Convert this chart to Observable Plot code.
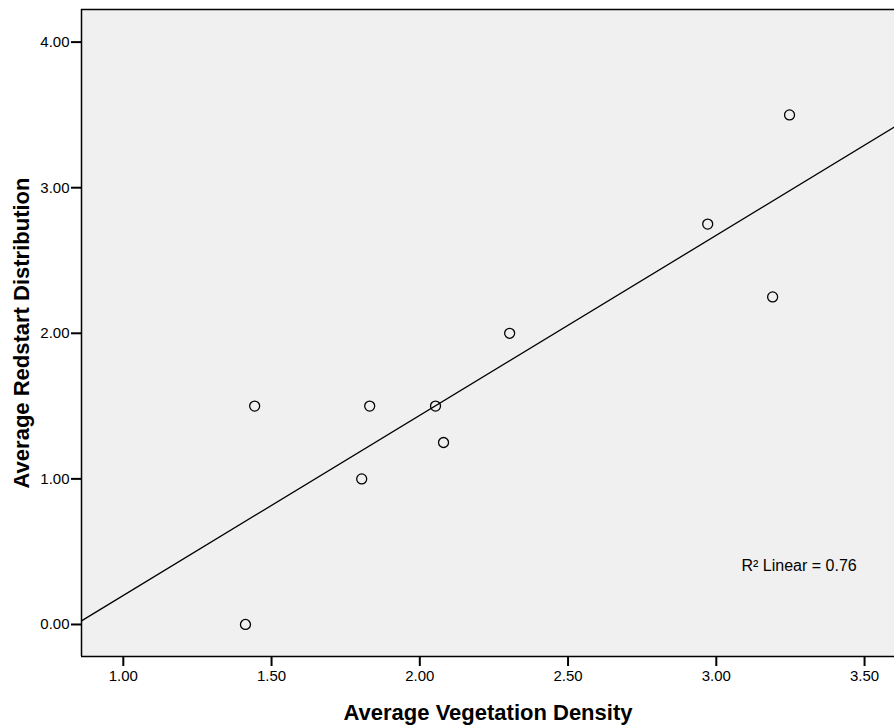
<!DOCTYPE html>
<html>
<head>
<meta charset="utf-8">
<script src="https://cdn.jsdelivr.net/npm/d3@7"></script>
<script src="https://cdn.jsdelivr.net/npm/@observablehq/plot@0.6"></script>
<style>
  body { margin: 0; background: #fff; }
  #chart svg { display: block; }
</style>
</head>
<body>
<div id="chart"></div>
<script>
const vegetation = [1.443, 1.412, 1.804, 1.831, 2.053, 2.080, 2.303, 2.971, 3.190, 3.247];
const redstart   = [1.50, 0.00, 1.00, 1.50, 1.50, 1.25, 2.00, 2.75, 2.25, 3.50];
const xTicks = [1.0, 1.5, 2.0, 2.5, 3.0, 3.5];
const yTicks = [0, 1, 2, 3, 4];
const xDomain = [0.859, 3.601];
const yDomain = [-0.22, 4.224];
const xTitle = "Average Vegetation Density";
const yTitle = "Average Redstart Distribution";
const r2Label = "R² Linear = 0.76";

const data = vegetation.map((v, i) => ({x: v, y: redstart[i]}));

// least-squares fit
const mx = d3.mean(vegetation), my = d3.mean(redstart);
const slope = d3.sum(data, d => (d.x - mx) * (d.y - my)) / d3.sum(data, d => (d.x - mx) ** 2);
const intercept = my - slope * mx;
const fitLine = xDomain.map(x => ({x, y: intercept + slope * x}));

const font = "'Liberation Sans', Arial, sans-serif";

const chart = Plot.plot({
  width: 894,
  height: 727,
  marginLeft: 81,
  marginTop: 9,
  marginRight: 0,
  marginBottom: 71,
  style: {fontFamily: font, fontSize: "15px", color: "#000", background: "#fff"},
  x: {domain: xDomain},
  y: {domain: yDomain},
  marks: [
    Plot.frame({fill: "#f0f0f0", stroke: null}),
    Plot.line(fitLine, {x: "x", y: "y", stroke: "#000", strokeWidth: 1.3, clip: true}),
    Plot.dot(data, {x: "x", y: "y", r: 5, stroke: "#000", strokeWidth: 1.3, fill: "none"}),
    Plot.ruleX([xDomain[0]], {stroke: "#000", strokeWidth: 1.5}),
    Plot.ruleY([yDomain[0], yDomain[1]], {stroke: "#000", strokeWidth: 1.5}),
    Plot.axisX({ticks: xTicks, tickFormat: d3.format(".2f"), tickSize: 10, tickPadding: 4, strokeWidth: 2, label: null, fontSize: 15}),
    Plot.axisY({ticks: yTicks, tickFormat: d3.format(".2f"), tickSize: 10, tickPadding: 2, strokeWidth: 2, label: null, fontSize: 15}),
    Plot.text([r2Label], {x: 3.085, y: 0.40, text: d => d, textAnchor: "start", fontSize: 16, fill: "#000"}),
    Plot.text([xTitle], {frameAnchor: "bottom", dy: 56, lineAnchor: "middle", text: d => d, fontSize: 22, fontWeight: "bold", fill: "#000"}),
    Plot.text([yTitle], {frameAnchor: "left", dx: -60, rotate: -90, textAnchor: "middle", lineAnchor: "middle", text: d => d, fontSize: 22, fontWeight: "bold", fill: "#000"})
  ]
});
document.getElementById("chart").appendChild(chart);
</script>
</body>
</html>
